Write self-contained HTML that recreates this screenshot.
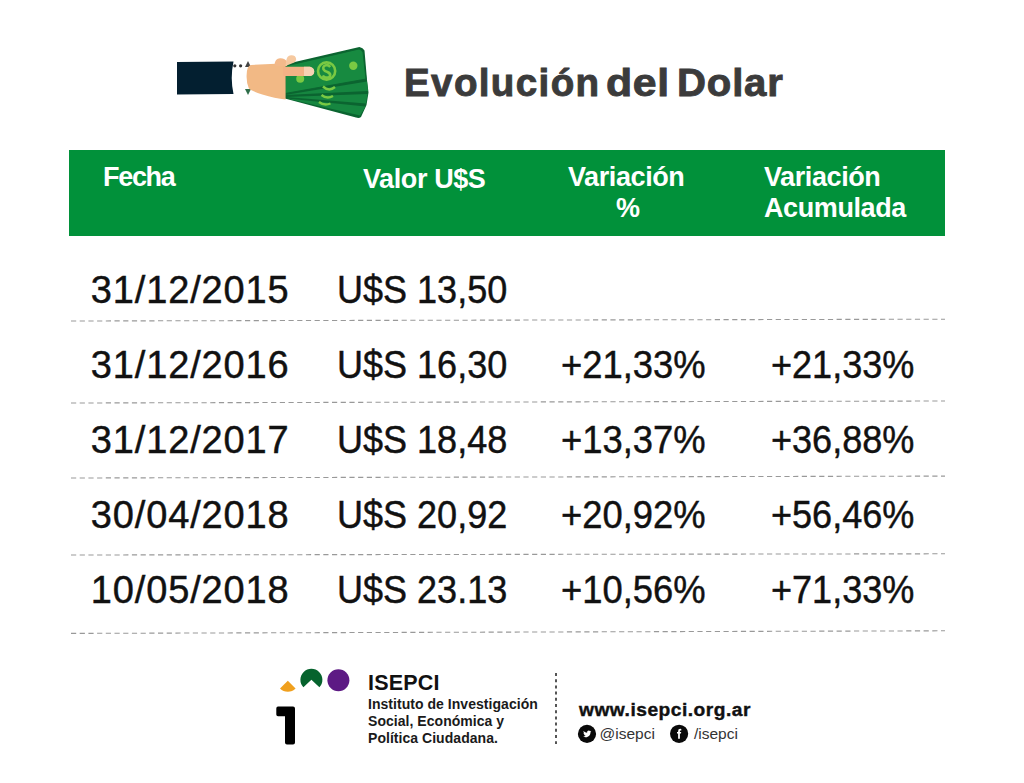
<!DOCTYPE html>
<html><head><meta charset="utf-8">
<style>
html,body{margin:0;padding:0;background:#fff;}
body{width:1024px;height:783px;position:relative;overflow:hidden;font-family:"Liberation Sans",sans-serif;}
.a{position:absolute;white-space:nowrap;line-height:1;}
.title{top:63.8px;font-size:38.6px;font-weight:bold;color:#3b3b3b;letter-spacing:0.6px;-webkit-text-stroke:0.9px #3b3b3b;word-spacing:-4px;}
.bar{position:absolute;left:69px;top:150px;width:876px;height:86px;background:#01913a;}
.h{color:#fff;font-weight:bold;font-size:27px;letter-spacing:-0.4px;}
.row{font-size:38px;color:#111;-webkit-text-stroke:0.45px #111;}
.c1{letter-spacing:0.85px;}
.c2{transform:scaleX(0.948);transform-origin:0 0;}
.c3{transform:scaleX(0.957);transform-origin:0 0;}
.c4{transform:scaleX(0.949);transform-origin:0 0;}
.dash{position:absolute;left:70px;width:875px;height:0;border-top:1px dashed #aaa;}
.ft{font-size:14px;font-weight:bold;color:#1a1a1a;letter-spacing:0.04px;}
.soc{font-size:15.5px;color:#333;}
</style></head><body>


<svg width="1024" height="783" viewBox="0 0 1024 783" style="position:absolute;left:0;top:0;">
  <!-- sleeve -->
  <path d="M177,62 L233.5,61.5 Q230,78 233.5,94 L177,94.5 Z" fill="#031f30"/>
  <circle cx="234.8" cy="65.8" r="1.6" fill="#333"/>
  <circle cx="240.6" cy="65.8" r="1.6" fill="#333"/>
  <path d="M248,61 L251,67 L245,67 Z" fill="#444"/>
  <path d="M245,89 L251,89 L248,95 Z" fill="#2f6e4a"/>
  <!-- money fan base -->
  <path d="M284,64.4 L359.4,47 Q363,47.5 364.5,50.5 L367,80 L368.5,92.5 L366.5,105 L361,117 Q359,118.5 356,117.5 L283,98 Z" fill="#0b6430"/>
  <path d="M285,95 L367,81.5 L368,91 Z" fill="#168640"/>
  <path d="M286,97 L367.5,94 L366,103.5 Z" fill="#168640"/>
  <path d="M287,98.5 L365.5,106.5 L360,115.5 Z" fill="#168640"/>
  <!-- top bill -->
  <path d="M285.5,66 L359,49 Q362,49.5 363,52.5 L366,79 L285,93.5 Z" fill="#178a40" stroke="#0b6430" stroke-width="0.9"/>
  <circle cx="326.6" cy="71" r="8.6" fill="none" stroke="#7ac943" stroke-width="2.6"/>
  <path d="M330.2,67 Q328.5,64.8 326,65.2 Q322.5,66 323.5,69.3 Q324.5,71 327.5,72 Q331,73.5 330,76.3 Q328.5,78 325.5,77.5 Q323.5,77 322.8,75.5" fill="none" stroke="#7ac943" stroke-width="2.6"/>
  <circle cx="353.3" cy="65.8" r="4.2" fill="#7ac943"/>
  <circle cx="300.2" cy="78.8" r="4" fill="#7ac943"/>
  <path d="M323,86.5 Q329,92 335,87" fill="none" stroke="#7ac943" stroke-width="2.4"/>
  <path d="M321.5,95 Q327,99.5 333,96" fill="none" stroke="#7ac943" stroke-width="2.4"/>
  <path d="M319,102 Q324,106 330.5,103.5" fill="none" stroke="#7ac943" stroke-width="2.4"/>
  <!-- hand -->
  <path d="M246.6,77 Q246.3,66 251,65 L276,63.8 L285.6,64 L285.6,99.5 Q275,98.5 262.3,94.5 Q250,90.5 248.7,88 Q246.6,83 246.6,77 Z" fill="#f2b985"/>
  <path d="M274.5,64.5 Q275,58.5 280,58.2 Q285,58 287.5,62 L287,66 L276,66 Z" fill="#f3b98a"/>
  <path d="M286,62 Q286.5,55.5 291,55.2 Q296,55 296.2,59.5 Q296,62 293,63 L285.5,66 Z" fill="#f6c9a0"/>
  <path d="M283,66.75 L310,66.75 Q314.2,67.8 314.2,71.4 Q314.2,75 310,76 L283,76 Z" fill="#f3b285"/>
  <path d="M304,66.75 L310,66.75 Q314.2,67.8 314.2,71.4 Q314.2,75 310,76 L304,76 Z" fill="#f7d2b4"/>
  <!-- logo -->
  <path d="M287.8,680.7 L280,688.5 A11,11 0 0 0 295.6,688.5 Z" fill="#f0a01e"/>
  <path d="M311.4,679.7 L303.4,687.3 A11,11 0 1 1 319.4,687.3 Z" fill="#06632d"/>
  <circle cx="338.4" cy="680.3" r="11" fill="#5d1a84"/>
  <path d="M278,706.5 L293,706.5 Q295,706.5 295,708.5 L295,742.5 Q295,744.5 293,744.5 L287,744.5 Q285,744.5 285,742.5 L285,716.3 L278,716.3 Q276.3,716.3 276.3,714.5 L276.3,708.5 Q276.3,706.5 278,706.5 Z" fill="#000"/>
  <!-- dotted vertical -->
  <line x1="556" y1="673" x2="556" y2="744" stroke="#555" stroke-width="2" stroke-dasharray="3,3.2"/>
  <!-- social icons -->
  <circle cx="587" cy="733.9" r="9.1" fill="#0a0a0a"/>
  <path transform="translate(582.8,729.6) scale(0.36)" d="M23.643 4.937c-.835.37-1.732.62-2.675.733.962-.576 1.7-1.49 2.048-2.578-.9.534-1.897.922-2.958 1.13-.85-.904-2.06-1.47-3.4-1.470-2.572 0-4.658 2.086-4.658 4.660 0 .364.042.718.12 1.060-3.873-.195-7.304-2.050-9.602-4.868-.4.69-.63 1.490-.63 2.342 0 1.616.823 3.043 2.072 3.878-.764-.025-1.482-.234-2.110-.583v.06c0 2.257 1.605 4.140 3.737 4.568-.392.106-.803.162-1.227.162-.3 0-.593-.028-.877-.082.593 1.850 2.313 3.198 4.352 3.234-1.595 1.250-3.604 1.995-5.786 1.995-.376 0-.747-.022-1.112-.065 2.062 1.323 4.510 2.093 7.140 2.093 8.570 0 13.255-7.098 13.255-13.254 0-.2-.005-.402-.014-.602.910-.658 1.700-1.477 2.323-2.410z" fill="#fff"/>
  <circle cx="679.1" cy="733.8" r="9.1" fill="#0a0a0a"/>
  <path d="M678.1,738.8 L678.1,733.6 L677,733.6 L677,732 L678.1,732 L678.1,731 Q678.1,728.8 680.3,728.8 L681.3,728.9 L681.3,730.4 L680.6,730.4 Q679.9,730.4 679.9,731.1 L679.9,732 L681.2,732 L681,733.6 L679.9,733.6 L679.9,738.8 Z" fill="#fff"/>
</svg>

<div class="a title" style="left:404px;letter-spacing:1.35px;">Evolución</div>
<div class="a title" style="left:605.5px;letter-spacing:0.6px;transform:scaleX(1.11);transform-origin:0 0;">del</div>
<div class="a title" style="left:677px;letter-spacing:0.8px;transform:scaleX(1.04);transform-origin:0 0;">Dolar</div>

<div class="bar"></div>
<div class="a h" style="left:103px;top:164px;letter-spacing:-1.3px;">Fecha</div>
<div class="a h" style="left:363px;top:166px;">Valor U$S</div>
<div class="a h" style="left:568px;top:164px;">Variación</div>
<div class="a h" style="left:616px;top:195px;">%</div>
<div class="a h" style="left:764px;top:164px;">Variación</div>
<div class="a h" style="left:764px;top:194.5px;">Acumulada</div>

<div class="a row c1" style="left:90.8px;top:270.5px;">31/12/2015</div>
<div class="a row c2" style="left:337px;top:270.5px;">U$S 13,50</div>

<div class="a row c1" style="left:90.8px;top:346px;">31/12/2016</div>
<div class="a row c2" style="left:337px;top:346px;">U$S 16,30</div>
<div class="a row c3" style="left:561px;top:346px;">+21,33%</div>
<div class="a row c4" style="left:771px;top:346px;">+21,33%</div>

<div class="a row c1" style="left:90.8px;top:420.5px;">31/12/2017</div>
<div class="a row c2" style="left:337px;top:420.5px;">U$S 18,48</div>
<div class="a row c3" style="left:561px;top:420.5px;">+13,37%</div>
<div class="a row c4" style="left:771px;top:420.5px;">+36,88%</div>

<div class="a row c1" style="left:90.8px;top:496px;">30/04/2018</div>
<div class="a row c2" style="left:337px;top:496px;">U$S 20,92</div>
<div class="a row c3" style="left:561px;top:496px;">+20,92%</div>
<div class="a row c4" style="left:771px;top:496px;">+56,46%</div>

<div class="a row c1" style="left:90.8px;top:571px;">10/05/2018</div>
<div class="a row c2" style="left:337px;top:571px;">U$S 23.13</div>
<div class="a row c3" style="left:561px;top:571px;">+10,56%</div>
<div class="a row c4" style="left:771px;top:571px;">+71,33%</div>


<div class="a" style="left:368px;top:673px;font-size:21.5px;letter-spacing:0.2px;font-weight:bold;color:#111;">ISEPCI</div>
<div class="a ft" style="left:368px;top:697px;">Instituto de Investigación</div>
<div class="a ft" style="left:368px;top:714px;">Social, Económica y</div>
<div class="a ft" style="left:368px;top:731px;">Política Ciudadana.</div>
<div class="a" style="left:579px;top:699.5px;font-size:19.2px;letter-spacing:0.5px;-webkit-text-stroke:0.4px #111;font-weight:bold;color:#111;">www.isepci.org.ar</div>
<div class="a soc" style="left:599.5px;top:725.8px;">@isepci</div>
<div class="a soc" style="left:694px;top:725.5px;">/isepci</div>
<svg width="1024" height="783" style="position:absolute;left:0;top:0;"><line x1="71" y1="321" x2="945" y2="319.2" stroke="#999" stroke-width="1.1" stroke-dasharray="5.2 3.5"/><line x1="71" y1="403" x2="945" y2="401" stroke="#999" stroke-width="1.1" stroke-dasharray="5.2 3.5"/><line x1="71" y1="478" x2="945" y2="476.1" stroke="#999" stroke-width="1.1" stroke-dasharray="5.2 3.5"/><line x1="71" y1="555" x2="945" y2="553.8" stroke="#999" stroke-width="1.1" stroke-dasharray="5.2 3.5"/><line x1="71" y1="633.4" x2="945" y2="630.8" stroke="#999" stroke-width="1.1" stroke-dasharray="5.2 3.5"/></svg>
</body></html>
